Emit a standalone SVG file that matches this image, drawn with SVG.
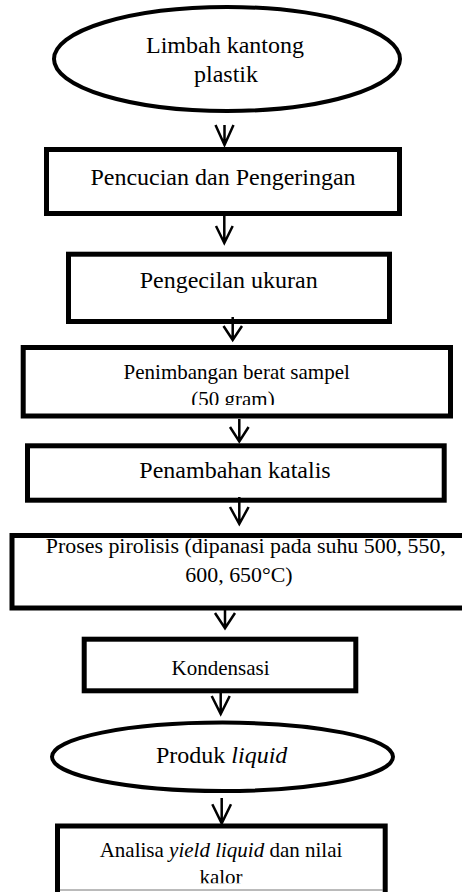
<svg xmlns="http://www.w3.org/2000/svg" width="462" height="892" viewBox="0 0 462 892">
<style>
.box{fill:#fff;stroke:#000;stroke-width:5}
.ell{fill:#fff;stroke:#000;stroke-width:4}
.t{font-family:"Liberation Serif","Times New Roman",serif;fill:#000;text-anchor:middle}
.conn{fill:none;stroke:#000;stroke-width:2.5;stroke-linejoin:miter}
</style>
<defs>
<clipPath id="c3"><rect x="0" y="340" width="462" height="65"/></clipPath>
<clipPath id="c7"><rect x="0" y="830" width="462" height="53.3"/></clipPath>
</defs>
<g id="n1">
<ellipse class="ell" cx="227" cy="59" rx="173" ry="52"/>
<text class="t" x="225" y="53" font-size="24">Limbah kantong</text>
<text class="t" x="226" y="82" font-size="24">plastik</text>
</g>
<g id="n2">
<rect class="box" x="46.5" y="149.5" width="353" height="64"/>
<text class="t" x="223" y="185" font-size="24">Pencucian dan Pengeringan</text>
</g>
<g id="n3">
<rect class="box" x="68.5" y="254.2" width="321" height="67.3"/>
<text class="t" x="228.7" y="288" font-size="24">Pengecilan ukuran</text>
</g>
<g id="n4">
<rect class="box" x="23.2" y="347.5" width="427.3" height="68.5"/>
<g clip-path="url(#c3)">
<text class="t" x="236.7" y="379" font-size="21">Penimbangan berat sampel</text>
<text class="t" x="233" y="405.5" font-size="21">(50 gram)</text>
</g>
</g>
<g id="n5">
<rect class="box" x="27.5" y="445.8" width="416.7" height="54.4"/>
<text class="t" x="235" y="478" font-size="24">Penambahan katalis</text>
</g>
<g id="n6">
<rect class="box" x="12" y="535.5" width="460" height="72.5"/>
<text class="t" x="245.8" y="553.3" font-size="21.9">Proses pirolisis (dipanasi pada suhu 500, 550,</text>
<text class="t" x="239" y="581.7" font-size="21.9">600, 650°C)</text>
</g>
<g id="n7">
<rect class="box" x="84.2" y="639.2" width="271.6" height="51.6"/>
<text class="t" x="220.5" y="675" font-size="21">Kondensasi</text>
</g>
<g id="n8">
<ellipse class="ell" cx="222.5" cy="756.8" rx="170.5" ry="34.2"/>
<text class="t" x="221.7" y="762.7" font-size="24">Produk <tspan font-style="italic">liquid</tspan></text>
</g>
<g id="n9">
<rect class="box" x="57.5" y="826" width="327.7" height="90"/>
<g clip-path="url(#c7)">
<text class="t" x="221" y="857.3" font-size="21">Analisa <tspan font-style="italic">yield liquid</tspan> dan nilai</text>
<text class="t" x="221" y="884" font-size="21">kalor</text>
</g>
<line x1="60" y1="890" x2="383" y2="890" stroke="#777" stroke-width="1"/>
</g>
<g id="connectors">
<path class="conn" d="M224.5,125 V145 M215.5,125 L224.5,145 L233.5,125"/>
<path class="conn" d="M224.3,216 V243 M216,226 L224.3,243 L232.7,226"/>
<path class="conn" d="M232.7,317 V340 M223.5,326 L232.7,340 L242,326"/>
<path class="conn" d="M239.3,419 V441.5 M230,427 L239.3,441.5 L248.6,427"/>
<path class="conn" d="M239.3,497 V524 M230,507 L239.3,524 L248.6,507"/>
<path class="conn" d="M225,610 V628.3 M215,613 L225,628.3 L235,613"/>
<path class="conn" d="M220.7,693 V714 M211.7,696 L220.7,714 L229.7,696"/>
<path class="conn" d="M221.7,798 V823.3 M212.3,804.3 L221.7,823.3 L231,804.3"/>
</g>
</svg>
